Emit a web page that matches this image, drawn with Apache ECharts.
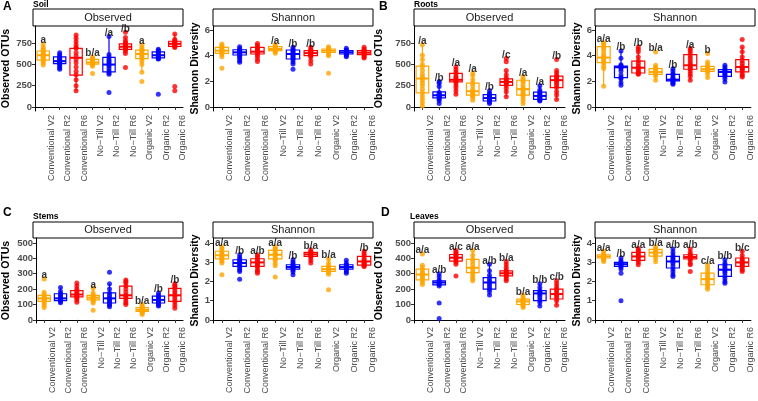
<!DOCTYPE html>
<html>
<head>
<meta charset="utf-8">
<script src="https://cdn.jsdelivr.net/npm/echarts@6/dist/echarts.min.js"></script>
<style>
  html, body { margin: 0; padding: 0; background: #fff; }
  #chart { width: 758px; height: 401px; }
</style>
</head>
<body>
<div id="chart"></div>
<script>
// categories and colours
const groups = ['Conventional V2', 'Conventional R2', 'Conventional R6', 'No\u2212Till V2', 'No\u2212Till R2', 'No\u2212Till R6', 'Organic V2', 'Organic R2', 'Organic R6'];
const groupColors = ['#FFA500', '#0000FF', '#FF0000', '#FFA500', '#0000FF', '#FF0000', '#FFA500', '#0000FF', '#FF0000'];

// tick labels
const obsTicksTop = [0, 250, 500, 750];
const shanTicksTop = [0, 2, 4, 6];
const obsTicksBottom = [0, 100, 200, 300, 400, 500];
const shanTicksBottom = [0, 1, 2, 3, 4];

// boxes are [min, q1, median, q3, max]
// A - Soil, Observed
const soilObsBoxes = [[495,553,610,660,740],[445,510,540,590,640],[190,375,580,690,850],[475,505,525,560,590],[387,414,500,584,830],[630,680,710,745,820],[410,570,625,670,730],[565,580,610,650,680],[700,715,745,775,860]];
const soilObsPoints = [
  [740,700,680,665,650,635,620,610,600,590,575,560,540,520,495],
  [640,615,595,580,565,555,545,535,525,515,500,480,460,445],
  [850,810,770,730,700,690,640,600,560,520,470,420,380,320,250,190],
  [590,575,560,550,540,530,525,515,505,495,480,395],
  [830,620,590,560,540,520,500,480,450,420,400,387,170],
  [880,820,780,760,745,730,720,710,700,690,680,660,630,465],
  [730,700,680,665,650,635,620,605,590,570,540,500,410,300],
  [680,665,650,635,620,605,590,580,570,565,150],
  [860,800,780,770,760,750,740,730,720,710,700,240,190]
];
const soilObsLabels = ['a','','','b/a','/a','/b','a','',''];

// A - Soil, Shannon
const soilShanBoxes = [[3.92,4.18,4.39,4.65,4.9],[3.48,4.05,4.26,4.46,4.7],[3.74,4.13,4.31,4.65,4.95],[4.18,4.39,4.52,4.7,4.85],[3.35,3.74,4.13,4.44,4.65],[3.61,4.0,4.2,4.39,4.65],[4.0,4.26,4.39,4.52,4.7],[3.92,4.13,4.26,4.39,4.57],[3.82,4.08,4.23,4.39,4.65]];
const soilShanPoints = [
  [4.9,4.8,4.7,4.6,4.5,4.45,4.4,4.35,4.3,4.2,4.1,3.92,3.02],
  [4.7,4.55,4.45,4.4,4.3,4.25,4.2,4.1,4.0,3.9,3.75,3.6,3.48],
  [4.95,4.8,4.65,4.55,4.45,4.35,4.3,4.2,4.1,3.95,3.74,3.54],
  [4.85,4.75,4.7,4.6,4.55,4.5,4.45,4.4,4.3,4.18],
  [4.65,4.5,4.4,4.3,4.2,4.1,4.0,3.9,3.8,3.7,3.5,3.35,2.94],
  [4.65,4.5,4.4,4.3,4.25,4.2,4.15,4.1,4.0,3.9,3.61,3.35],
  [4.7,4.6,4.5,4.45,4.4,4.35,4.3,4.25,4.1,4.0,2.63],
  [4.57,4.45,4.38,4.3,4.26,4.2,4.15,4.1,4.0,3.92],
  [4.65,4.5,4.4,4.35,4.3,4.25,4.2,4.1,4.0,3.9,3.82]
];
const soilShanLabels = ['','','','/a','/b','/b','','',''];

// B - Roots, Observed
const rootObsBoxes = [[10,166,335,481,735],[40,107,138,178,300],[150,296,320,395,470],[80,140,185,280,400],[40,70,105,145,190],[120,255,295,330,430],[40,140,210,315,360],[70,90,130,175,250],[87,229,316,363,434]];
const rootObsPoints = [
  [735,610,560,500,470,430,390,360,335,310,280,250,210,170,130,90,50,10],
  [300,280,240,170,155,145,138,130,120,110,95,75,40],
  [470,440,410,390,360,340,320,305,290,260,230,190,150],
  [400,370,320,280,250,210,185,160,150,140,130,110,80],
  [190,160,145,130,120,110,100,90,80,70,55,40],
  [572,533,430,380,340,320,305,295,285,270,255,220,180,120],
  [360,330,310,290,260,230,210,190,170,150,140,110,80,40],
  [250,200,175,160,140,130,115,100,90,80,70],
  [560,430,400,370,350,330,316,300,280,250,230,180,140,87]
];
const rootObsLabels = ['/a','/b','/a','/a','/b','/c','/a','/a','/b'];

// B - Roots, Shannon
const rootShanBoxes = [[1.61,3.45,3.85,4.7,5.0],[1.69,2.29,3.1,3.19,4.36],[2.55,2.65,3.06,3.58,4.68],[2.08,2.55,2.73,2.99,3.25],[1.77,2.03,2.13,2.55,2.99],[2.08,2.94,3.25,4.08,4.55],[2.29,2.78,2.94,3.17,3.51],[1.95,2.39,2.73,2.91,3.25],[2.34,2.73,3.12,3.69,4.68]];
const rootShanPoints = [
  [5.0,4.9,4.75,4.6,4.45,4.2,4.0,3.9,3.8,3.7,3.55,3.45,3.2,3.0,1.61],
  [4.36,3.8,3.3,3.2,3.15,3.1,3.0,2.8,2.5,2.3,2.2,1.9,1.69],
  [4.68,4.5,4.3,3.9,3.6,3.4,3.2,3.06,2.95,2.8,2.7,2.6,2.55],
  [4.29,3.25,3.1,3.0,2.9,2.8,2.73,2.65,2.55,2.4,2.08],
  [2.99,2.8,2.6,2.5,2.3,2.2,2.15,2.1,2.05,1.95,1.85,1.77],
  [4.55,4.4,4.2,4.0,3.8,3.6,3.4,3.25,3.1,3.0,2.8,2.6,2.4,2.08],
  [4.16,3.51,3.3,3.15,3.05,2.95,2.9,2.85,2.78,2.6,2.29],
  [3.25,3.1,2.95,2.85,2.75,2.7,2.6,2.5,2.4,2.2,1.95],
  [5.25,4.68,4.3,3.9,3.6,3.4,3.2,3.1,3.0,2.9,2.8,2.6,2.45,2.34]
];
const rootShanLabels = ['a/a','/b','/b','b/a','/b','/a','b','',''];

// C - Stems, Observed
const stemObsBoxes = [[80,120,140,160,180],[110,125,140,170,210],[115,150,165,190,240],[110,130,145,160,205],[85,110,140,175,235],[100,140,160,220,260],[35,55,65,80,100],[90,110,130,155,175],[75,120,160,205,235]];
const stemObsPoints = [
  [265,180,165,155,148,140,135,128,120,110,95,80],
  [210,185,170,160,150,142,135,128,120,112],
  [240,220,200,190,180,170,162,155,150,140,130,115],
  [205,175,160,152,145,140,135,130,120,110,63],
  [310,235,200,175,160,145,135,125,115,105,95,85],
  [260,250,240,220,200,180,160,150,140,125,110,100],
  [100,90,82,75,70,65,60,55,50,45,35],
  [175,160,150,140,130,120,112,105,95,90],
  [235,225,215,205,190,175,160,145,130,115,95,75]
];
const stemObsLabels = ['a','','','a','','','b/a','/b','/b'];

// C - Stems, Shannon
const stemShanBoxes = [[2.96,3.17,3.36,3.57,3.8],[2.52,2.78,2.96,3.13,3.39],[2.52,2.78,2.99,3.18,3.39],[2.82,3.17,3.39,3.62,3.8],[2.35,2.64,2.75,2.87,3.13],[2.96,3.3,3.41,3.51,3.65],[2.38,2.52,2.64,2.78,3.17],[2.43,2.64,2.75,2.87,3.1],[2.78,2.85,3.04,3.3,3.57]];
const stemShanPoints = [
  [3.8,3.7,3.6,3.5,3.42,3.36,3.3,3.22,3.15,3.05,2.96,2.35],
  [3.39,3.25,3.15,3.05,3.0,2.95,2.88,2.8,2.7,2.6,2.52,2.12],
  [3.39,3.3,3.2,3.1,3.02,2.98,2.9,2.82,2.75,2.6,2.52,2.43],
  [3.8,3.72,3.65,3.55,3.45,3.4,3.3,3.2,3.1,2.95,2.82,2.23],
  [3.13,3.0,2.9,2.82,2.78,2.75,2.72,2.68,2.6,2.5,2.35],
  [3.65,3.55,3.5,3.45,3.42,3.38,3.33,3.25,3.1,2.96],
  [3.17,2.95,2.8,2.72,2.66,2.62,2.58,2.52,2.45,2.38,1.57],
  [3.1,2.95,2.85,2.8,2.76,2.72,2.66,2.6,2.5,2.43],
  [3.57,3.45,3.35,3.2,3.1,3.0,2.95,2.9,2.85,2.8,2.78]
];
const stemShanLabels = ['a/a','/b','a/b','a/a','/b','b/a','b/a','','/b'];

// D - Leaves, Observed
const leafObsBoxes = [[225,260,295,330,355],[215,228,243,254,300],[361,382,404,425,451],[254,307,339,393,451],[162,200,243,275,361],[254,286,303,318,372],[75,100,120,135,155],[90,125,172,190,235],[95,136,168,200,255]];
const leafObsPoints = [
  [428,355,340,325,310,300,290,280,270,260,245,230],
  [300,280,260,250,245,240,235,230,220,110,10],
  [451,440,430,420,412,404,395,385,375,361,285],
  [451,420,395,380,360,340,325,310,295,280,265,254],
  [361,320,290,270,255,243,230,215,200,185,162],
  [380,360,340,325,315,305,298,290,280,265,254],
  [160,145,135,128,120,112,105,98,90,80],
  [235,210,190,180,172,160,145,130,115,90],
  [255,235,215,200,190,175,165,155,140,125,95]
];
const leafObsLabels = ['a/a','a/b','a/c','a/a','a/b','b/a','b/a','b/b','c/b'];

// D - Leaves, Shannon
const leafShanBoxes = [[3.04,3.22,3.3,3.39,3.57],[2.61,2.78,2.9,2.99,3.22],[2.87,3.1,3.3,3.51,3.72],[3.03,3.32,3.5,3.67,3.81],[2.26,2.7,3.04,3.3,3.69],[2.87,3.17,3.27,3.39,3.69],[1.6,1.83,2.12,2.43,2.87],[1.91,2.26,2.61,2.87,3.13],[2.52,2.78,2.99,3.22,3.57]];
const leafShanPoints = [
  [3.57,3.45,3.38,3.32,3.28,3.25,3.2,3.15,3.1,3.04],
  [3.22,3.08,2.99,2.95,2.9,2.86,2.82,2.75,2.65,2.43,1.0],
  [3.72,3.62,3.55,3.45,3.38,3.3,3.22,3.12,3.0,2.87],
  [3.81,3.72,3.65,3.58,3.52,3.48,3.42,3.35,3.2,3.03],
  [3.69,3.5,3.35,3.25,3.15,3.05,2.95,2.8,2.65,2.5,2.35,2.26],
  [3.69,3.5,3.4,3.33,3.28,3.24,3.2,3.1,2.95,2.87,2.52],
  [2.87,2.7,2.55,2.4,2.3,2.2,2.1,2.0,1.9,1.8,1.7,1.6],
  [3.13,2.95,2.85,2.75,2.65,2.55,2.45,2.3,2.15,2.0,1.91],
  [3.57,3.35,3.2,3.1,3.02,2.95,2.88,2.8,2.7,2.6,2.52]
];
const leafShanLabels = ['a/a','/b','a/a','b/a','a/b','a/b','c/a','b/b','b/c'];

// layout of the 8 facets
const panels = [
  { boxes: soilObsBoxes, points: soilObsPoints, labels: soilObsLabels, strip: 'Observed', left: 33, top: 26, width: 150, min: -48, max: 955, ticks: obsTicksTop, name: 'Observed OTUs', gap: 23 },
  { boxes: soilShanBoxes, points: soilShanPoints, labels: soilShanLabels, strip: 'Shannon', left: 213, top: 26, width: 160, min: -0.31, max: 6.31, ticks: shanTicksTop, name: 'Shannon Diversity', gap: 11 },
  { boxes: rootObsBoxes, points: rootObsPoints, labels: rootObsLabels, strip: 'Observed', left: 414, top: 26, width: 151, min: -48, max: 955, ticks: obsTicksTop, name: 'Observed OTUs', gap: 29 },
  { boxes: rootShanBoxes, points: rootShanPoints, labels: rootShanLabels, strip: 'Shannon', left: 595, top: 26, width: 160, min: -0.31, max: 6.31, ticks: shanTicksTop, name: 'Shannon Diversity', gap: 12 },
  { boxes: stemObsBoxes, points: stemObsPoints, labels: stemObsLabels, strip: 'Observed', left: 33, top: 238, width: 150, min: -20, max: 532, ticks: obsTicksBottom, name: 'Observed OTUs', gap: 24 },
  { boxes: stemShanBoxes, points: stemShanPoints, labels: stemShanLabels, strip: 'Shannon', left: 213, top: 238, width: 160, min: -0.16, max: 4.26, ticks: shanTicksBottom, name: 'Shannon Diversity', gap: 12 },
  { boxes: leafObsBoxes, points: leafObsPoints, labels: leafObsLabels, strip: 'Observed', left: 414, top: 238, width: 151, min: -20, max: 532, ticks: obsTicksBottom, name: 'Observed OTUs', gap: 29 },
  { boxes: leafShanBoxes, points: leafShanPoints, labels: leafShanLabels, strip: 'Shannon', left: 595, top: 238, width: 160, min: -0.16, max: 4.26, ticks: shanTicksBottom, name: 'Shannon Diversity', gap: 12 }
];

const PLOT_H = 85;
const FONT = 'Liberation Sans, Arial, sans-serif';

// ggplot-like box: no whisker caps, thick median
const renderBox = (params, api) => {
  const x = api.value(0);
  const c = api.visual('color');
  const w = api.size([1, 0])[0] * 0.75;
  const pMin = api.coord([x, api.value(1)]);
  const pQ1 = api.coord([x, api.value(2)]);
  const pMed = api.coord([x, api.value(3)]);
  const pQ3 = api.coord([x, api.value(4)]);
  const pMax = api.coord([x, api.value(5)]);
  const cx = pMin[0];
  const st = { stroke: c, lineWidth: 1.2, fill: null };
  return {
    type: 'group',
    children: [
      { type: 'line', shape: { x1: cx, y1: pMin[1], x2: cx, y2: pQ1[1] }, style: st },
      { type: 'line', shape: { x1: cx, y1: pQ3[1], x2: cx, y2: pMax[1] }, style: st },
      { type: 'rect', shape: { x: cx - w / 2, y: pQ3[1], width: w, height: pQ1[1] - pQ3[1] }, style: st },
      { type: 'line', shape: { x1: cx - w / 2, y1: pMed[1], x2: cx + w / 2, y2: pMed[1] }, style: { stroke: c, lineWidth: 2 } }
    ]
  };
};

const option = {
  animation: false,
  backgroundColor: '#fff',
  grid: [], xAxis: [], yAxis: [], series: [],
  graphic: [
    { type: 'text', left: 3, top: 1, style: { text: 'A', font: 'bold 12px ' + FONT, fill: '#000' } },
    { type: 'text', left: 33, top: 0, style: { text: 'Soil', font: 'bold 8.5px ' + FONT, fill: '#000' } },
    { type: 'text', left: 379, top: 1, style: { text: 'B', font: 'bold 12px ' + FONT, fill: '#000' } },
    { type: 'text', left: 414, top: 0, style: { text: 'Roots', font: 'bold 8.5px ' + FONT, fill: '#000' } },
    { type: 'text', left: 3, top: 207, style: { text: 'C', font: 'bold 12px ' + FONT, fill: '#000' } },
    { type: 'text', left: 33, top: 212, style: { text: 'Stems', font: 'bold 8.5px ' + FONT, fill: '#000' } },
    { type: 'text', left: 381, top: 207, style: { text: 'D', font: 'bold 12px ' + FONT, fill: '#000' } },
    { type: 'text', left: 410, top: 212, style: { text: 'Leaves', font: 'bold 8.5px ' + FONT, fill: '#000' } }
  ]
};

panels.forEach((p, i) => {
  option.grid.push({ left: p.left, top: p.top, width: p.width, height: PLOT_H });

  option.xAxis.push({
    type: 'category', gridIndex: i, data: groups,
    axisLine: { lineStyle: { color: '#000', width: 1 } },
    axisTick: { show: true, alignWithLabel: true, length: 3, lineStyle: { color: '#333' } },
    // labels sit a little right of each category, as in the original
    axisLabel: { rotate: 90, interval: 0, fontSize: 9, color: '#4D4D4D', fontFamily: FONT, margin: 4, verticalAlign: 'top', lineHeight: 16 }
  });

  option.yAxis.push({
    type: 'value', gridIndex: i, min: p.min, max: p.max,
    axisLine: { show: true, lineStyle: { color: '#000', width: 1 } },
    axisTick: { show: true, length: 3, lineStyle: { color: '#333' }, customValues: p.ticks },
    axisLabel: { customValues: p.ticks, fontSize: 9.5, fontWeight: 'bold', color: '#4D4D4D', fontFamily: FONT, margin: 3 },
    splitLine: { show: false },
    name: p.name, nameLocation: 'middle', nameRotate: 90, nameGap: p.gap,
    nameTextStyle: { fontSize: 10.5, fontWeight: 'bold', color: '#000', fontFamily: FONT }
  });

  // strip header
  const stripTop = p.top < 100 ? 9 : 222;
  option.graphic.push({
    type: 'rect', shape: { x: p.left, y: stripTop, width: p.width, height: p.top - stripTop },
    style: { fill: '#fff', stroke: '#000', lineWidth: 1 }
  });
  option.graphic.push({
    type: 'text', x: p.left + p.width / 2, y: (stripTop + p.top) / 2,
    style: { text: p.strip, font: '11px ' + FONT, fill: '#1A1A1A', textAlign: 'center', textVerticalAlign: 'middle' }
  });

  option.series.push({
    type: 'custom', xAxisIndex: i, yAxisIndex: i, renderItem: renderBox,
    encode: { x: 0, y: [1, 2, 3, 4, 5] },
    data: p.boxes.map((b, j) => ({ value: [j].concat(b), itemStyle: { color: groupColors[j] } })),
    z: 2
  });

  const pts = [];
  p.points.forEach((arr, j) => arr.forEach(v => pts.push({ value: [j, v], itemStyle: { color: groupColors[j] } })));
  option.series.push({
    type: 'scatter', xAxisIndex: i, yAxisIndex: i, symbolSize: 5, data: pts, z: 3
  });

  const labs = [];
  p.labels.forEach((t, j) => {
    if (!t) return;
    const top = Math.max(p.boxes[j][4], Math.max.apply(null, p.points[j]));
    labs.push({ name: t, value: [j, top] });
  });
  option.series.push({
    type: 'scatter', xAxisIndex: i, yAxisIndex: i, symbolSize: 0, data: labs, z: 4,
    label: { show: true, position: 'top', distance: -1.5, formatter: '{b}', fontSize: 10, fontWeight: 'bold', color: '#000', fontFamily: FONT }
  });
});

const chart = echarts.init(document.getElementById('chart'));
chart.setOption(option);
</script>
</body>
</html>
